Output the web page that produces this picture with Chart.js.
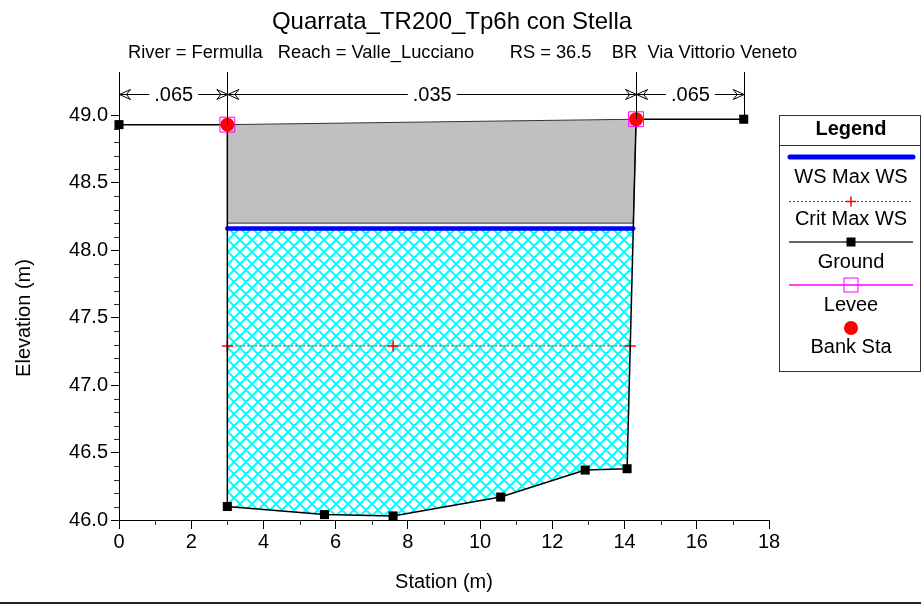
<!DOCTYPE html>
<html>
<head>
<meta charset="utf-8">
<script src="https://cdn.jsdelivr.net/npm/chart.js@4"></script>
<style>
  html, body { margin: 0; padding: 0; background: #fff; }
  canvas { display: block; }
</style>
</head>
<body>
<canvas id="xsChart" width="921" height="604"></canvas>
<script>
// Data
const groundStation = [0, 3.0, 3.0, 5.69, 7.59, 10.57, 12.91, 14.07, 14.32, 17.3];
const groundElev = [48.93, 48.93, 46.10, 46.04, 46.03, 46.17, 46.37, 46.38, 48.97, 48.97];

const bankStation = [3.0, 14.32];
const bankElev = [48.93, 48.97];

const leveeStation = [3.0, 14.32];
const leveeElev = [48.93, 48.97];

const wsStation = [3.0, 14.24];
const wsElev = 48.16;

const critStation = [3.0, 7.59, 14.16];
const critElev = 47.29;

// bridge deck: high chord and low chord
const deckStation = [3.0, 14.32];
const deckHighChord = [48.93, 48.97];
const lowChordStation = [3.0, 14.24];
const lowChordElev = 48.20;

// Manning's n values between breaks
const nStations = [0, 3.0, 14.32, 17.3];
const nValues = ['.065', '.035', '.065'];

const xTicks = [0, 2, 4, 6, 8, 10, 12, 14, 16, 18];
const yTicks = [46.0, 46.5, 47.0, 47.5, 48.0, 48.5, 49.0];

const FONT = "'Liberation Sans', Arial, Helvetica, sans-serif";

// cyan cross-hatch pattern for the water area
function makeHatch() {
    const pc = document.createElement('canvas');
    pc.width = 12; pc.height = 12;
    const g = pc.getContext('2d');
    g.strokeStyle = '#00FFFF';
    g.lineWidth = 2;
    g.beginPath();
    [-12, 0, 12].forEach(dx => {
        g.moveTo(dx - 2, -2); g.lineTo(dx + 14, 14);
        g.moveTo(dx - 2, 14); g.lineTo(dx + 14, -2);
    });
    g.stroke();
    return g.createPattern(pc, 'repeat');
}

const pts = (xs, ys) => xs.map((x, i) => ({ x: x, y: Array.isArray(ys) ? ys[i] : ys }));

// water polygon: WS line then the ground below it, right to left
const waterPoly = pts(wsStation, wsElev).concat(
    groundStation
        .map((s, i) => ({ x: s, y: groundElev[i] }))
        .filter(p => p.x >= wsStation[0] && p.x <= wsStation[1] && p.y < wsElev)
        .reverse()
);

// deck polygon: high chord then low chord back
const deckPoly = pts(deckStation, deckHighChord).concat(pts(lowChordStation, lowChordElev).reverse());

function groundTop(st) {
    let top = -Infinity;
    groundStation.forEach((s, i) => { if (Math.abs(s - st) < 1e-6) top = Math.max(top, groundElev[i]); });
    return top;
}

function drawArrow(ctx, tipX, y, dir) {
    // dir = -1 points left, +1 points right
    ctx.beginPath();
    ctx.moveTo(tipX - dir * 11, y - 5);
    ctx.lineTo(tipX, y);
    ctx.lineTo(tipX - dir * 11, y + 5);
    ctx.lineTo(tipX - dir * 7, y);
    ctx.closePath();
    ctx.stroke();
}

const extrasPlugin = {
    id: 'extras',
    afterDraw(chart) {
        const ctx = chart.ctx;
        const xs = chart.scales.x, ys = chart.scales.y;
        const area = chart.chartArea;
        ctx.save();

        // title and subtitle
        ctx.fillStyle = '#000';
        ctx.textBaseline = 'middle';
        ctx.textAlign = 'center';
        ctx.font = '24px ' + FONT;
        ctx.fillText('Quarrata_TR200_Tp6h con Stella', 452, 22);
        ctx.font = '18.3px ' + FONT;
        ctx.textAlign = 'left';
        ctx.fillText('River = Fermulla   Reach = Valle_Lucciano       RS = 36.5    BR  Via Vittorio Veneto', 128, 53);

        // y axis title
        ctx.save();
        ctx.translate(24, 318);
        ctx.rotate(-Math.PI / 2);
        ctx.textAlign = 'center';
        ctx.font = '20px ' + FONT;
        ctx.fillText('Elevation (m)', 0, 0);
        ctx.restore();

        // minor ticks
        ctx.strokeStyle = '#333';
        ctx.lineWidth = 1;
        ctx.beginPath();
        for (let v = 1; v < 18; v += 2) {
            const px = Math.round(xs.getPixelForValue(v)) + 0.5;
            ctx.moveTo(px, area.bottom);
            ctx.lineTo(px, area.bottom + 5);
        }
        for (let k = 461; k < 490; k++) {
            if (k % 5 === 0) continue;
            const py = Math.round(ys.getPixelForValue(k / 10)) + 0.5;
            ctx.moveTo(area.left - 5, py);
            ctx.lineTo(area.left, py);
        }
        ctx.stroke();

        // Manning's n dimension lines
        const dimY = area.top + 22.5;
        ctx.strokeStyle = '#000';
        ctx.lineWidth = 1;
        ctx.beginPath();
        nStations.forEach(st => {
            const px = Math.round(xs.getPixelForValue(st)) + 0.5;
            ctx.moveTo(px, area.top);
            ctx.lineTo(px, ys.getPixelForValue(groundTop(st)));
        });
        ctx.stroke();
        ctx.font = '20px ' + FONT;
        ctx.textAlign = 'center';
        nValues.forEach((label, i) => {
            const x1 = xs.getPixelForValue(nStations[i]) + 0.5;
            const x2 = xs.getPixelForValue(nStations[i + 1]) + 0.5;
            const mid = (x1 + x2) / 2;
            const w = ctx.measureText(label).width;
            ctx.beginPath();
            ctx.moveTo(x1, dimY); ctx.lineTo(mid - w / 2 - 5, dimY);
            ctx.moveTo(mid + w / 2 + 5, dimY); ctx.lineTo(x2, dimY);
            ctx.stroke();
            drawArrow(ctx, x1, dimY, -1);
            drawArrow(ctx, x2, dimY, 1);
            ctx.fillText(label, mid, dimY + 1);
        });

        // legend box
        const L = 779.5, T = 115.5, R = 920.5, B = 371.5, cx = 851;
        ctx.strokeStyle = '#333';
        ctx.strokeRect(L, T, R - L, B - T);
        ctx.beginPath(); ctx.moveTo(L, 145.5); ctx.lineTo(R, 145.5); ctx.stroke();
        ctx.fillStyle = '#000';
        ctx.font = 'bold 20px ' + FONT;
        ctx.fillText('Legend', cx, 129);
        ctx.font = '20px ' + FONT;

        // WS Max WS
        ctx.strokeStyle = '#0000FF'; ctx.lineWidth = 5; ctx.lineCap = 'round';
        ctx.beginPath(); ctx.moveTo(790, 157); ctx.lineTo(913, 157); ctx.stroke();
        ctx.lineCap = 'butt';
        ctx.fillText('WS Max WS', cx, 177);

        // Crit Max WS
        ctx.strokeStyle = '#FF0000'; ctx.lineWidth = 1; ctx.setLineDash([2, 2]);
        ctx.beginPath(); ctx.moveTo(789, 201.5); ctx.lineTo(913, 201.5); ctx.stroke();
        ctx.setLineDash([]);
        ctx.lineWidth = 1.5;
        ctx.beginPath();
        ctx.moveTo(cx - 5, 201.5); ctx.lineTo(cx + 5, 201.5);
        ctx.moveTo(cx, 196.5); ctx.lineTo(cx, 206.5);
        ctx.stroke();
        ctx.fillText('Crit Max WS', cx, 219);

        // Ground
        ctx.strokeStyle = '#333'; ctx.lineWidth = 1.5;
        ctx.beginPath(); ctx.moveTo(789, 242); ctx.lineTo(913, 242); ctx.stroke();
        ctx.fillRect(cx - 4.5, 237.5, 9, 9);
        ctx.fillText('Ground', cx, 262);

        // Levee
        ctx.strokeStyle = '#FF00FF'; ctx.lineWidth = 1.5;
        ctx.beginPath(); ctx.moveTo(789, 285); ctx.lineTo(913, 285); ctx.stroke();
        ctx.lineWidth = 1;
        ctx.strokeRect(cx - 7, 278, 14, 14);
        ctx.fillText('Levee', cx, 305);

        // Bank Sta
        ctx.fillStyle = '#FF0000';
        ctx.beginPath(); ctx.arc(cx, 328, 7, 0, Math.PI * 2); ctx.fill();
        ctx.fillStyle = '#000';
        ctx.fillText('Bank Sta', cx, 347);

        // bottom frame line
        ctx.fillStyle = '#222';
        ctx.fillRect(0, 602, 921, 2);
        ctx.restore();
    }
};

const ctx = document.getElementById('xsChart').getContext('2d');
const xsChart = new Chart(ctx, {
    type: 'line',
    data: {
        datasets: [
            {
                label: 'Bank Sta', order: 0, data: pts(bankStation, bankElev),
                showLine: false, pointStyle: 'circle', pointRadius: 7,
                pointBackgroundColor: '#FF0000', pointBorderColor: '#FF0000', pointBorderWidth: 0, clip: false
            },
            {
                label: 'Levee', order: 1, data: pts(leveeStation, leveeElev),
                showLine: false, pointStyle: 'rect', pointRadius: 10.5,
                pointBackgroundColor: 'rgba(0,0,0,0)', pointBorderColor: '#FF00FF', pointBorderWidth: 1, clip: false
            },
            {
                label: 'Ground', order: 2, data: pts(groundStation, groundElev),
                borderColor: '#000', borderWidth: 1.5, pointStyle: 'rect', pointRadius: 6.4,
                pointBackgroundColor: '#000', pointBorderColor: '#000', pointBorderWidth: 0, clip: false
            },
            {
                label: 'Crit Max WS', order: 3, data: pts(critStation, critElev),
                borderColor: '#FF0000', borderWidth: 1, borderDash: [2, 2],
                pointStyle: 'cross', pointRadius: 5.5, pointBorderColor: '#FF0000', pointBorderWidth: 1.5
            },
            {
                label: 'WS Max WS', order: 4, data: pts(wsStation, wsElev),
                borderColor: '#0000FF', borderWidth: 4.5, borderCapStyle: 'round', pointRadius: 0
            },
            {
                label: 'Deck', order: 5, data: deckPoly,
                borderColor: '#333', borderWidth: 1, backgroundColor: '#C0C0C0',
                fill: 'shape', pointRadius: 0
            },
            {
                label: 'Water', order: 6, data: waterPoly,
                borderWidth: 0, borderColor: 'rgba(0,0,0,0)', backgroundColor: makeHatch(),
                fill: 'shape', pointRadius: 0
            }
        ]
    },
    options: {
        responsive: false,
        animation: false,
        devicePixelRatio: 1,
        events: [],
        layout: { padding: { top: 72, right: 152, left: 0, bottom: 0 } },
        plugins: {
            legend: { display: false },
            title: { display: false },
            tooltip: { enabled: false }
        },
        scales: {
            x: {
                type: 'linear', min: 0, max: 18,
                afterFit: s => { s.height = 84; },
                afterBuildTicks: s => { s.ticks = xTicks.map(v => ({ value: v })); },
                ticks: {
                    color: '#000', font: { family: FONT, size: 20 }, padding: 1,
                    maxRotation: 0, callback: v => String(v)
                },
                grid: { drawOnChartArea: false, drawTicks: true, tickLength: 9, color: '#000' },
                border: { display: true, color: '#000', width: 1 },
                title: {
                    display: true, text: 'Station (m)', color: '#000',
                    font: { family: FONT, size: 20 }, padding: { top: 0, bottom: 10 }
                }
            },
            y: {
                type: 'linear', min: 46.0, max: 49.32,
                afterFit: s => { s.width = 119; },
                afterBuildTicks: s => { s.ticks = yTicks.map(v => ({ value: v })); },
                ticks: {
                    color: '#000', font: { family: FONT, size: 20 }, padding: 3,
                    callback: v => Number(v).toFixed(1)
                },
                grid: { drawOnChartArea: false, drawTicks: true, tickLength: 8, color: '#000' },
                border: { display: true, color: '#000', width: 1 },
                title: { display: false }
            }
        }
    },
    plugins: [extrasPlugin]
});
</script>
</body>
</html>
